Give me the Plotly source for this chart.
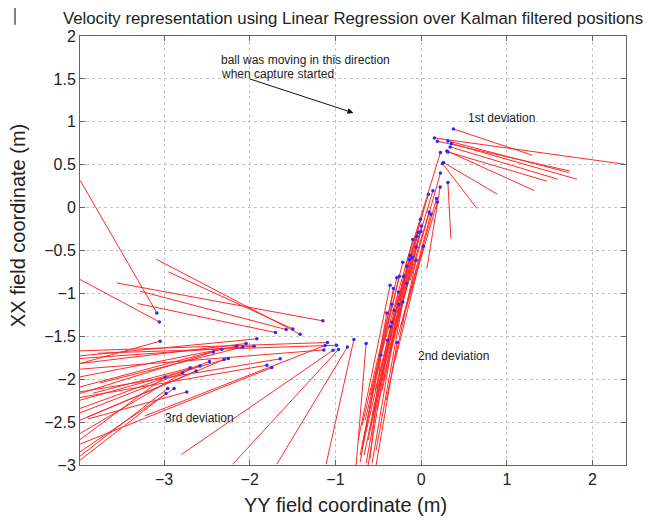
import plotly.graph_objects as go

# ---- data (field coordinates, metres) ----
# start = Kalman filtered position (blue dot), end = end of regression velocity segment
start_x = [
    # 1st deviation cluster
    0.377, 0.155, 0.190, 0.312, 0.354, 0.338, 0.312, 0.300, 0.260, 0.249, 0.312, 0.222,
    # 2nd deviation band
    0.225, 0.225, 0.137, 0.085, 0.179, 0.190, 0.093, 0.113, -0.008, 0.004,
    -0.032, -0.004, -0.050, -0.097, 0.027, -0.058, -0.128, -0.102, -0.058, -0.214,
    -0.137, -0.167, -0.253, -0.202, -0.284, -0.167, -0.362, -0.323, -0.265, -0.214,
    -0.342, -0.260, -0.315, -0.400, -0.342, -0.358, -0.393, -0.280, -0.642, -0.470,
    # middle group
    -0.785, -0.860, -0.965, -1.027,
    # upper left group
    -3.084, -3.054, -3.046, -1.147, -1.412, -1.497, -1.700, -1.575,
    # 3rd deviation cluster
    -1.093, -1.120, -1.135, -0.988, -1.917, -2.042, -1.949, -2.081, -2.151, -2.326,
    -2.424, -2.249, -2.299, -2.470, -2.579, -2.625, -2.695, -2.781, -2.987, -2.956,
    -2.882, -2.976, -2.734, -1.800, -1.742, -1.645,
]
start_y = [
    0.917, 0.812, 0.774, 0.777, 0.747, 0.707, 0.649, 0.660, 0.526, 0.514, 0.293, 0.241,
    0.642, 0.404, 0.195, 0.156, 0.106, 0.066, -0.050, -0.077, -0.135, -0.213,
    -0.287, -0.279, -0.333, -0.372, -0.450, -0.458, -0.555, -0.582, -0.613, -0.636,
    -0.605, -0.683, -0.800, -0.800, -0.819, -0.885, -0.904, -0.943, -0.983, -1.099,
    -1.126, -1.126, -1.196, -1.227, -1.336, -1.386, -1.545, -1.572, -1.584, -1.717,
    -1.537, -1.624, -1.654, -1.662,
    -1.227, -1.332, -1.557, -1.320, -1.476, -1.414, -1.456, -1.421,
    -1.572, -1.607, -1.659, -1.604, -1.530, -1.584, -1.615, -1.624, -1.615, -1.650,
    -1.682, -1.759, -1.770, -1.794, -1.845, -1.903, -1.868, -1.927, -1.973, -2.108,
    -2.108, -2.167, -2.148, -1.837, -1.864, -1.763,
]
end_x = [
    1.295, 2.369, 1.730, 1.719, 1.817, 1.595, 1.467, 1.319, 0.890, 0.650, 0.347, 0.067,
    -0.187, -0.128, -0.245, -0.292, -0.187, -0.233, -0.315, -0.268, -0.385, -0.362,
    -0.420, -0.338, -0.478, -0.502, -0.303, -0.443, -0.537, -0.478, -0.408, -0.595,
    -0.514, -0.572, -0.653, -0.595, -0.688, -0.455, -0.735, -0.688, -0.618, -0.525,
    -0.712, -0.572, -0.642, -0.712, -0.618, -0.665, -0.688, -0.525, -0.758, -0.595,
    -1.109, -1.684, -2.198, -2.797,
    -3.980, -3.980, -3.980, -3.551, -3.092, -2.949, -3.310, -3.279,
    -3.980, -3.224, -3.980, -3.769, -3.980, -3.980, -3.980, -3.745, -3.980, -3.980,
    -3.980, -3.980, -3.901, -3.980, -3.980, -3.980, -3.827, -3.980, -3.980, -3.980,
    -3.980, -3.980, -3.886, -3.980, -3.980, -3.980,
]
end_y = [
    0.611, 0.506, 0.428, 0.409, 0.331, 0.331, 0.308, 0.199, 0.156, -0.010, -0.360, -0.710,
    -0.706, -0.847, -1.079, -1.137, -1.196, -1.371, -1.429, -1.487, -1.545, -1.662,
    -1.779, -1.604, -1.895, -1.837, -1.779, -2.012, -2.129, -2.070, -2.245, -2.187,
    -2.361, -2.420, -2.478, -2.595, -2.536, -2.128, -2.711, -2.769, -2.711, -2.828,
    -2.886, -2.979, -2.979, -2.967, -3.000, -2.886, -2.804, -3.000, -3.000, -2.923,
    -2.991, -2.991, -2.991, -2.878,
    0.319, -0.838, -1.817, -0.878, -0.601, -0.749, -1.118, -0.974,
    -1.670, -2.428, -1.883, -1.697, -1.728, -1.817, -1.759, -2.043, -1.973, -2.090,
    -2.167, -2.245, -2.446, -2.341, -2.393, -2.478, -2.163, -2.633, -2.703, -2.897,
    -2.847, -2.944, -2.463, -2.213, -2.757, -2.148,
]

x_ticks = [-3, -2, -1, 0, 1, 2]
y_ticks = [2, 1.5, 1, 0.5, 0, -0.5, -1, -1.5, -2, -2.5, -3]

# build segment polyline with gaps
seg_x, seg_y = [], []
for x0, y0, x1, y1 in zip(start_x, start_y, end_x, end_y):
    seg_x += [x0, x1, None]
    seg_y += [y0, y1, None]

fig = go.Figure()
fig.add_trace(go.Scatter(x=seg_x, y=seg_y, mode="lines",
                         line=dict(color="#ff2a2a", width=1), hoverinfo="skip",
                         showlegend=False))
fig.add_trace(go.Scatter(x=start_x, y=start_y, mode="markers",
                         marker=dict(color="#2a2aff", size=3.5), showlegend=False))

txt = dict(family="Liberation Sans, Arial, sans-serif", color="#222222")

# page body has an 8px margin; figure is sized/offset to compensate
fig.update_layout(
    width=645, height=514,
    margin=dict(l=72, r=27, t=28, b=57),
    paper_bgcolor="white", plot_bgcolor="white",
    font=txt,
    title=dict(text="Velocity representation using Linear Regression over Kalman filtered positions",
               x=0.5, xref="paper", xanchor="center", y=1 - 10.5 / 514, yanchor="middle",
               font=dict(size=16.8, **txt)),
    xaxis=dict(range=[-3.98, 2.39], tickvals=x_ticks, showgrid=True,
               gridcolor="#c4c4c4", griddash="dot", gridwidth=1, zeroline=False,
               showline=True, mirror="allticks", linecolor="#666666", linewidth=1,
               ticks="inside", ticklen=5, tickcolor="#666666",
               tickfont=dict(size=16, **txt)),
    yaxis=dict(range=[-3, 2], tickvals=y_ticks, showgrid=True,
               gridcolor="#c4c4c4", griddash="dot", gridwidth=1, zeroline=False,
               showline=True, mirror="allticks", linecolor="#666666", linewidth=1,
               ticks="inside", ticklen=5, tickcolor="#666666",
               tickfont=dict(size=16, **txt)),
)

# axis titles (placed as in the reference)
fig.add_annotation(xref="paper", yref="paper", x=0.487, y=-0.093,
                   text="YY field coordinate (m)", showarrow=False,
                   xanchor="center", yanchor="middle", font=dict(size=20, **txt))
fig.add_annotation(xref="paper", yref="paper", x=-0.1136, y=0.559,
                   text="XX field coordinate (m)", showarrow=False, textangle=-90,
                   xanchor="center", yanchor="middle", font=dict(size=20, **txt))

ann_font = dict(size=12, **txt)
fig.add_annotation(x=-2.356, y=1.718, text="ball was moving in this direction", showarrow=False,
                   xanchor="left", yanchor="middle", font=ann_font)
fig.add_annotation(x=-2.356, y=1.552, text="when capture started", showarrow=False,
                   xanchor="left", yanchor="middle", font=ann_font)
fig.add_annotation(x=-0.790, y=1.104, ax=-2.015, ay=1.505, axref="x", ayref="y",
                   xref="x", yref="y", text="", showarrow=True, arrowhead=2,
                   arrowsize=1.2, arrowwidth=1, arrowcolor="#111111")
fig.add_annotation(x=0.934, y=1.050, text="1st deviation", showarrow=False,
                   xanchor="center", yanchor="middle", font=ann_font)
fig.add_annotation(x=-0.062, y=-1.732, text="2nd deviation", showarrow=False,
                   xanchor="left", yanchor="middle", font=ann_font)
fig.add_annotation(x=-3.014, y=-2.451, text="3rd deviation", showarrow=False,
                   xanchor="left", yanchor="middle", font=ann_font)

# thin vertical mark at top-left edge of the original figure
fig.add_shape(type="line", xref="paper", yref="paper", x0=-0.119, x1=-0.119,
              y0=1.026, y1=1.065, line=dict(color="#555555", width=1.5))

fig.write_html("out.html")
